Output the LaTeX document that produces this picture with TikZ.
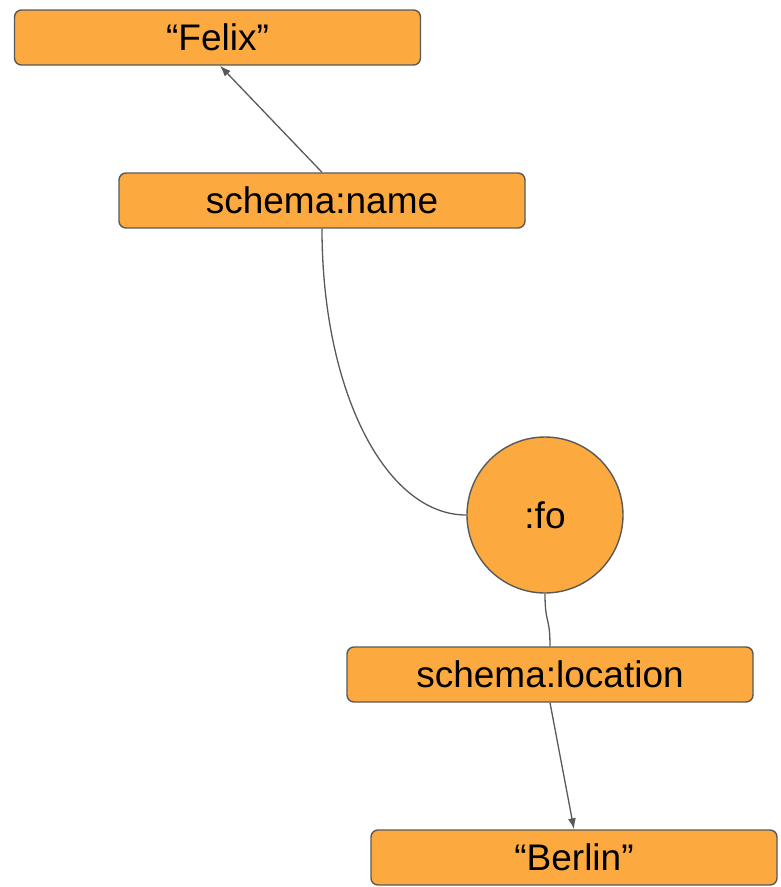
\documentclass[tikz,border=0pt]{standalone}
\usepackage{fontspec}
\setmainfont{Liberation Sans}
\usetikzlibrary{arrows.meta}
\definecolor{boxfill}{HTML}{FCAA40}
\definecolor{edge}{HTML}{595959}
\tikzset{
  term/.style={draw=edge, line width=1.4pt, fill=boxfill, rounded corners=7pt,
    minimum width=406pt, minimum height=55pt, inner sep=0pt,
    font=\fontsize{37}{40}\selectfont},
  res/.style={draw=edge, line width=1.4pt, fill=boxfill, circle,
    minimum size=156pt, inner sep=0pt, font=\fontsize{37}{40}\selectfont},
  link/.style={draw=edge, line width=1.3pt},
  arr/.style={link, -{Latex[length=11pt, width=8pt]}}
}
\begin{document}
\begin{tikzpicture}[x=1pt, y=-1pt]
  \useasboundingbox (0,0) rectangle (781,887);
  \node[term] (felix) at (217.5,37.5) {“Felix”};
  \node[term] (name) at (322,200.5) {schema:name};
  \node[res] (fo) at (545,515) {:fo};
  \node[term] (loc) at (550,674.5) {schema:location};
  \node[term] (berlin) at (574,857.5) {“Berlin”};

  \draw[arr] (name.north) -- (felix.south -| 220,0);
  \draw[link] (name.south) .. controls (322,390) and (385,515) .. (fo.west);
  \draw[link] (fo.south) .. controls (545,625) and (550,615) .. (loc.north);
  \draw[arr] (loc.south) -- (berlin.north);
\end{tikzpicture}
\end{document}
